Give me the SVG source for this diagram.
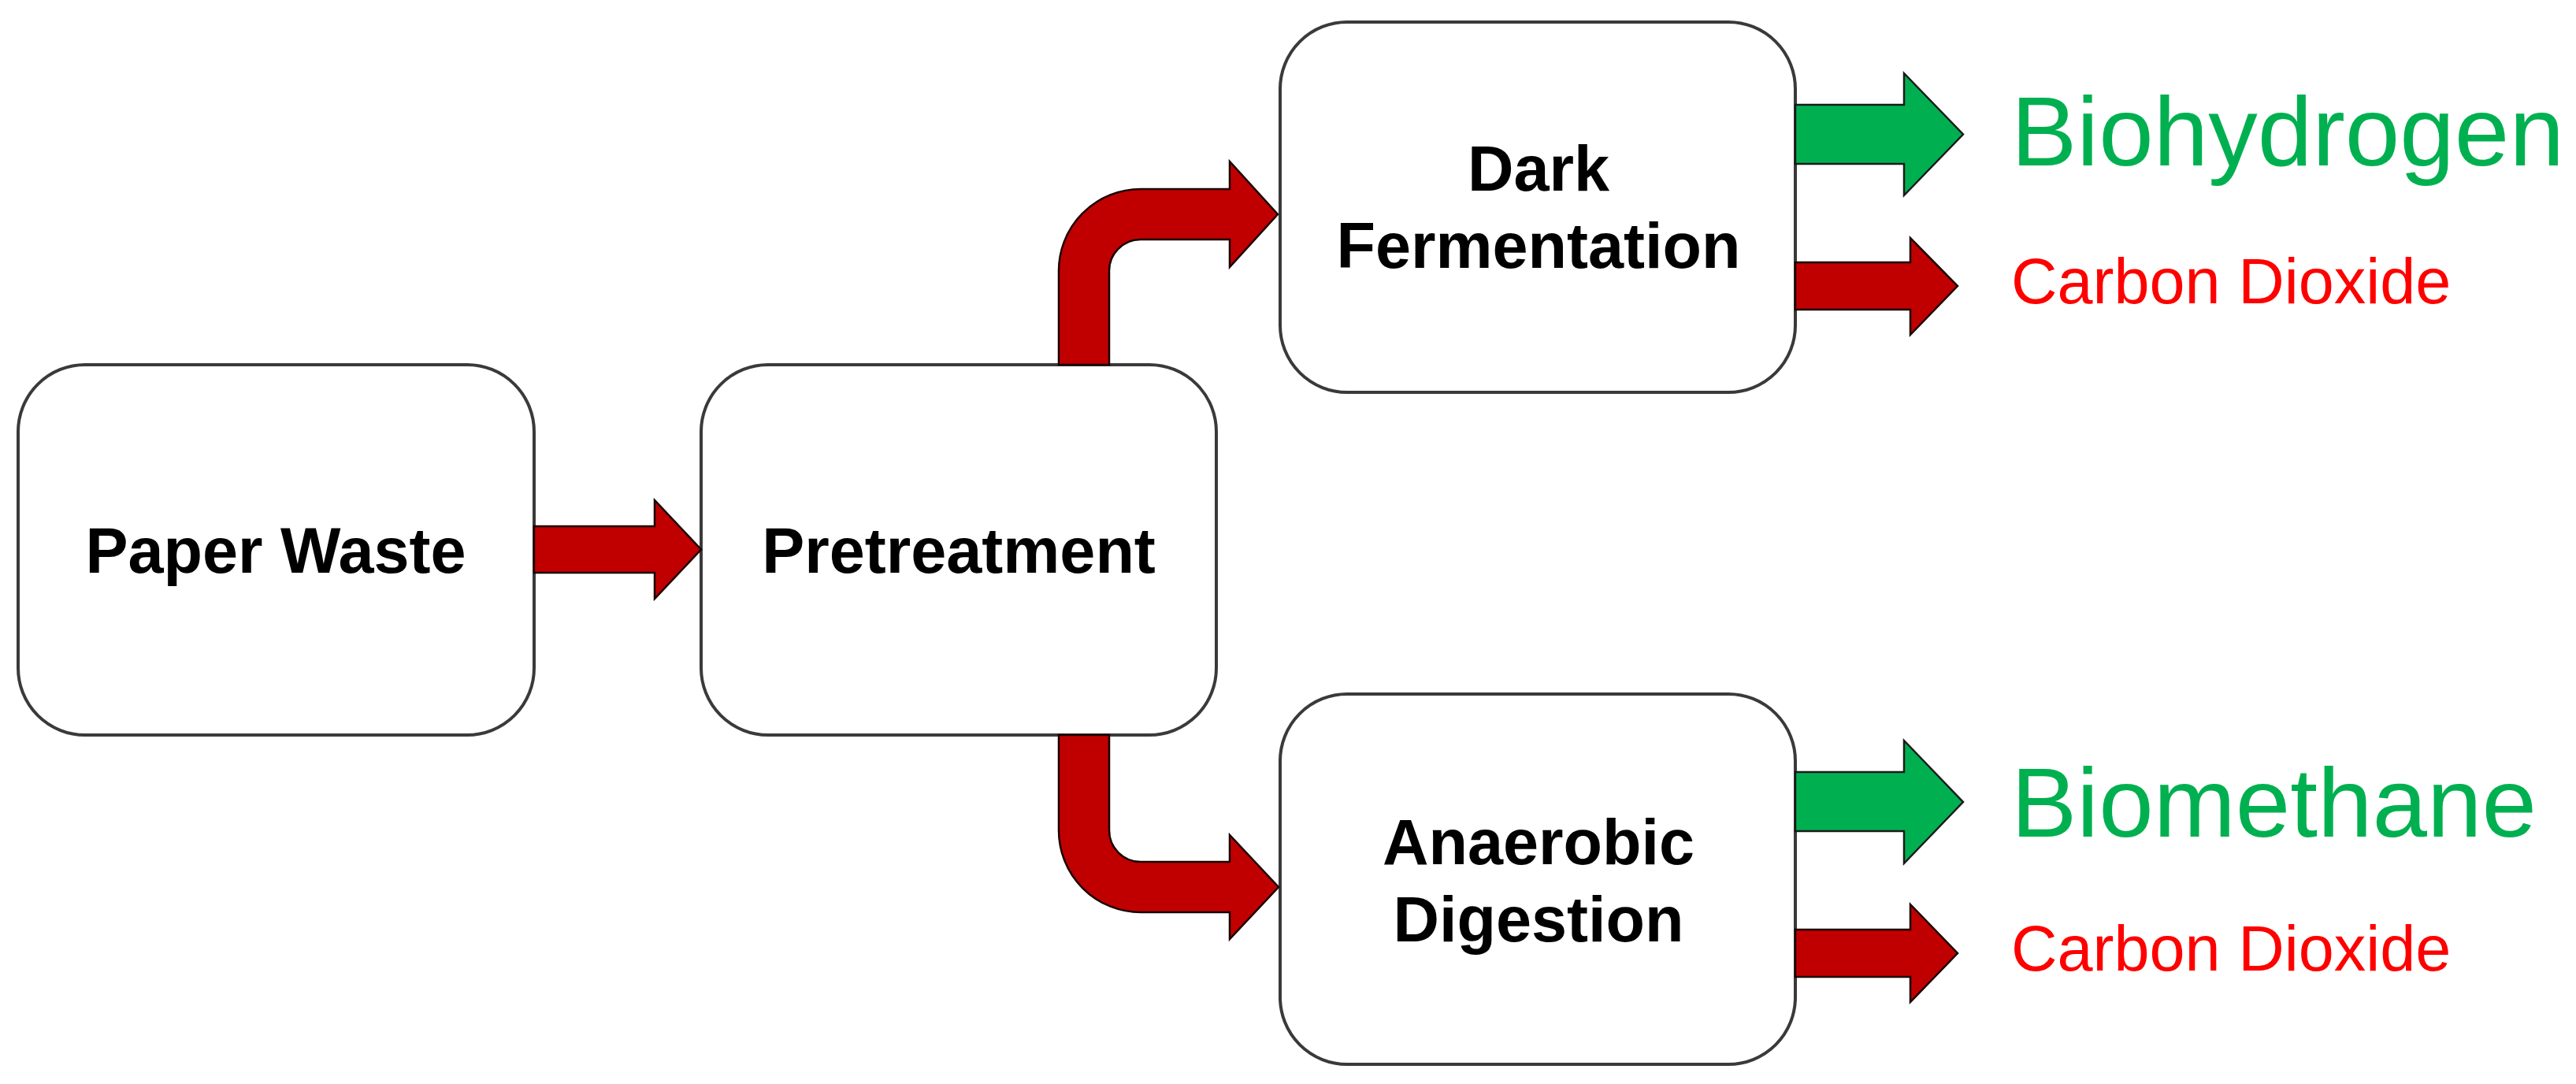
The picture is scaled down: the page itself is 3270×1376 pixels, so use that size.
<svg xmlns="http://www.w3.org/2000/svg" width="3270" height="1376" viewBox="0 0 3270 1376">
<style>
.box{fill:#ffffff;stroke:#3a3a3a;stroke-width:4}
.lbl{font-family:"Liberation Sans",Arial,sans-serif;font-weight:bold;font-size:81px;fill:#000;text-anchor:middle}
.red{fill:#C00000;stroke:#1a0000;stroke-width:2.5;stroke-linejoin:miter}
.grn{fill:#00B050;stroke:#1a1a1a;stroke-width:2.5;stroke-linejoin:miter}
.prod{font-family:"Liberation Sans",Arial,sans-serif;font-size:125px;fill:#00B050}
.co2{font-family:"Liberation Sans",Arial,sans-serif;font-size:81px;fill:#FF0000}
</style>
<rect width="3270" height="1376" fill="#ffffff"/>
<g id="paper-waste">
<rect class="box" x="23" y="463" width="655" height="470" rx="85" ry="85"/>
<text class="lbl" x="350" y="727">Paper Waste</text>
</g>
<g id="pretreatment">
<rect class="box" x="890" y="463" width="654" height="470" rx="85" ry="85"/>
<text class="lbl" x="1217" y="727">Pretreatment</text>
</g>
<g id="dark-fermentation">
<rect class="box" x="1625" y="28" width="654" height="470" rx="85" ry="85"/>
<text class="lbl" x="1953" y="242">Dark</text>
<text class="lbl" x="1953" y="340">Fermentation</text>
</g>
<g id="anaerobic-digestion">
<rect class="box" x="1625" y="881" width="654" height="470" rx="85" ry="85"/>
<text class="lbl" x="1953" y="1097">Anaerobic</text>
<text class="lbl" x="1953" y="1195">Digestion</text>
</g>
<g id="connectors">
<path class="red" d="M678,668 L831,668 L831,635 L890,697.5 L831,760 L831,727 L678,727 Z"/>
<path class="red" d="M1344,463 L1344,346 A104,104 0 0 1 1448,240 L1561,240 L1561,205 L1622,272 L1561,339 L1561,304 L1448,304 A40,40 0 0 0 1408,346 L1408,463 Z"/>
<path class="red" d="M1344,933 L1344,1054 A104,104 0 0 0 1448,1158 L1561,1158 L1561,1192 L1623,1126 L1561,1060 L1561,1094 L1448,1094 A40,40 0 0 1 1408,1054 L1408,933 Z"/>
<path class="grn" d="M2279,133 L2417,133 L2417,93 L2492,170.5 L2417,248 L2417,208 L2279,208 Z"/>
<path class="red" d="M2279,333 L2425,333 L2425,302 L2485,363 L2425,425 L2425,393 L2279,393 Z"/>
<path class="grn" d="M2279,980 L2417,980 L2417,940 L2492,1018 L2417,1096 L2417,1055 L2279,1055 Z"/>
<path class="red" d="M2279,1180 L2425,1180 L2425,1148 L2485,1210 L2425,1272 L2425,1240 L2279,1240 Z"/>
</g>
<g id="outputs">
<text class="prod" x="2553" y="210">Biohydrogen</text>
<text class="co2" x="2553" y="385">Carbon Dioxide</text>
<text class="prod" x="2553" y="1062">Biomethane</text>
<text class="co2" x="2553" y="1232">Carbon Dioxide</text>
</g>
</svg>
